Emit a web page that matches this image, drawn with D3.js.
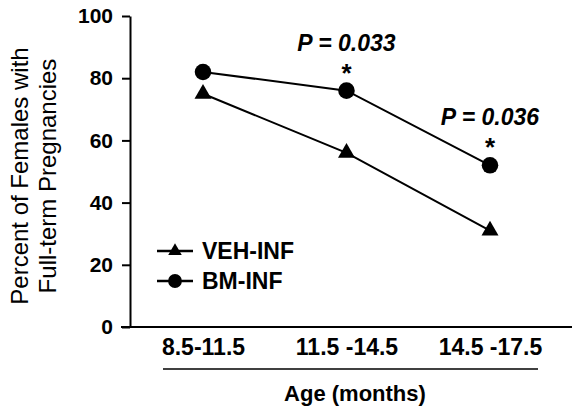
<!DOCTYPE html>
<html>
<head>
<meta charset="utf-8">
<script src="https://cdn.jsdelivr.net/npm/d3@7"></script>
<style>
  body { margin: 0; background: #fff; }
  svg { font-family: "Liberation Sans", Arial, sans-serif; }
</style>
</head>
<body>
<svg id="chart" width="572" height="409"></svg>
<script>
// data
const ages = ["8.5-11.5", "11.5 -14.5", "14.5 -17.5"];
const vehInf = [75, 56, 31];
const bmInf = [82, 76, 52];
const pLabels = [null, "P = 0.033", "P = 0.036"];
const yTicks = [0, 20, 40, 60, 80, 100];

const svg = d3.select("#chart");

const x = d3.scalePoint().domain(ages).range([203, 490]);
const y = d3.scaleLinear().domain([0, 100]).range([327, 16]);

// y axis
const yAxis = svg.append("g")
	.attr("transform", "translate(130,0)")
	.call(d3.axisLeft(y).tickValues(yTicks).tickSize(8).tickSizeOuter(0).tickPadding(9));
yAxis.select(".domain").attr("stroke-width", 2);
yAxis.selectAll(".tick line").attr("stroke-width", 2);
yAxis.selectAll(".tick text")
	.attr("font-size", 21)
	.attr("font-weight", "bold")
	.attr("font-family", "Liberation Sans, Arial, sans-serif")
	.attr("fill", "#000");

// x baseline
svg.append("line")
	.attr("x1", 121).attr("x2", 572)
	.attr("y1", y(0)).attr("y2", y(0))
	.attr("stroke", "#000").attr("stroke-width", 2);

// x category labels
const xAxis = svg.append("g")
	.attr("transform", `translate(0,${y(0)})`)
	.call(d3.axisBottom(x).tickSize(0).tickPadding(12));
xAxis.select(".domain").remove();
xAxis.selectAll(".tick text")
	.attr("font-size", 23)
	.attr("font-weight", "bold")
	.attr("font-family", "Liberation Sans, Arial, sans-serif")
	.attr("fill", "#000");

// underline and axis title
svg.append("line")
	.attr("x1", 163).attr("x2", 538)
	.attr("y1", 369).attr("y2", 369)
	.attr("stroke", "#000").attr("stroke-width", 1.5);

svg.append("text")
	.attr("x", 355).attr("y", 401)
	.attr("text-anchor", "middle")
	.attr("font-size", 22)
	.attr("font-weight", "bold")
	.text("Age (months)");

// y title
const yTitle = svg.append("text")
	.attr("transform", "translate(0,176) rotate(-90)")
	.attr("text-anchor", "middle")
	.attr("font-size", 24);
yTitle.append("tspan").attr("x", 0).attr("y", 28).text("Percent of Females with");
yTitle.append("tspan").attr("x", 0).attr("y", 56).text("Full-term Pregnancies");

// lines
const line = d3.line().x((d, i) => x(ages[i])).y(d => y(d));

[vehInf, bmInf].forEach(s => {
	svg.append("path")
		.datum(s)
		.attr("d", line)
		.attr("fill", "none")
		.attr("stroke", "#000")
		.attr("stroke-width", 2);
});

const tri = d3.symbol().type(d3.symbolTriangle).size(125);
const dot = d3.symbol().type(d3.symbolCircle).size(215);

svg.append("g").selectAll("path")
	.data(vehInf)
	.join("path")
	.attr("d", tri)
	.attr("transform", (d, i) => `translate(${x(ages[i])},${y(d)})`)
	.attr("fill", "#000");

svg.append("g").selectAll("path")
	.data(bmInf)
	.join("path")
	.attr("d", dot)
	.attr("transform", (d, i) => `translate(${x(ages[i])},${y(d)})`)
	.attr("fill", "#000");

// significance labels
pLabels.forEach((p, i) => {
	if (!p) return;
	const cx = x(ages[i]);
	const top = y(bmInf[i]);
	svg.append("text")
		.attr("x", cx).attr("y", top - 40)
		.attr("text-anchor", "middle")
		.attr("font-size", 23)
		.attr("font-weight", "bold")
		.attr("font-style", "italic")
		.text(p);
	svg.append("text")
		.attr("x", cx).attr("y", top - 9)
		.attr("text-anchor", "middle")
		.attr("font-size", 26)
		.attr("font-weight", "bold")
		.text("*");
});

// legend
const legend = [
	{ name: "VEH-INF", sym: d3.symbol().type(d3.symbolTriangle).size(80), y: 251 },
	{ name: "BM-INF", sym: d3.symbol().type(d3.symbolCircle).size(150), y: 281 },
];
const lg = svg.append("g").selectAll("g")
	.data(legend)
	.join("g")
	.attr("transform", d => `translate(157,${d.y})`);
lg.append("line")
	.attr("x1", 0).attr("x2", 36)
	.attr("stroke", "#000").attr("stroke-width", 2.5);
lg.append("path")
	.attr("d", d => d.sym())
	.attr("transform", "translate(18,0)")
	.attr("fill", "#000");
lg.append("text")
	.attr("x", 45).attr("dy", "0.36em")
	.attr("font-size", 23)
	.attr("font-weight", "bold")
	.text(d => d.name);
</script>
</body>
</html>
